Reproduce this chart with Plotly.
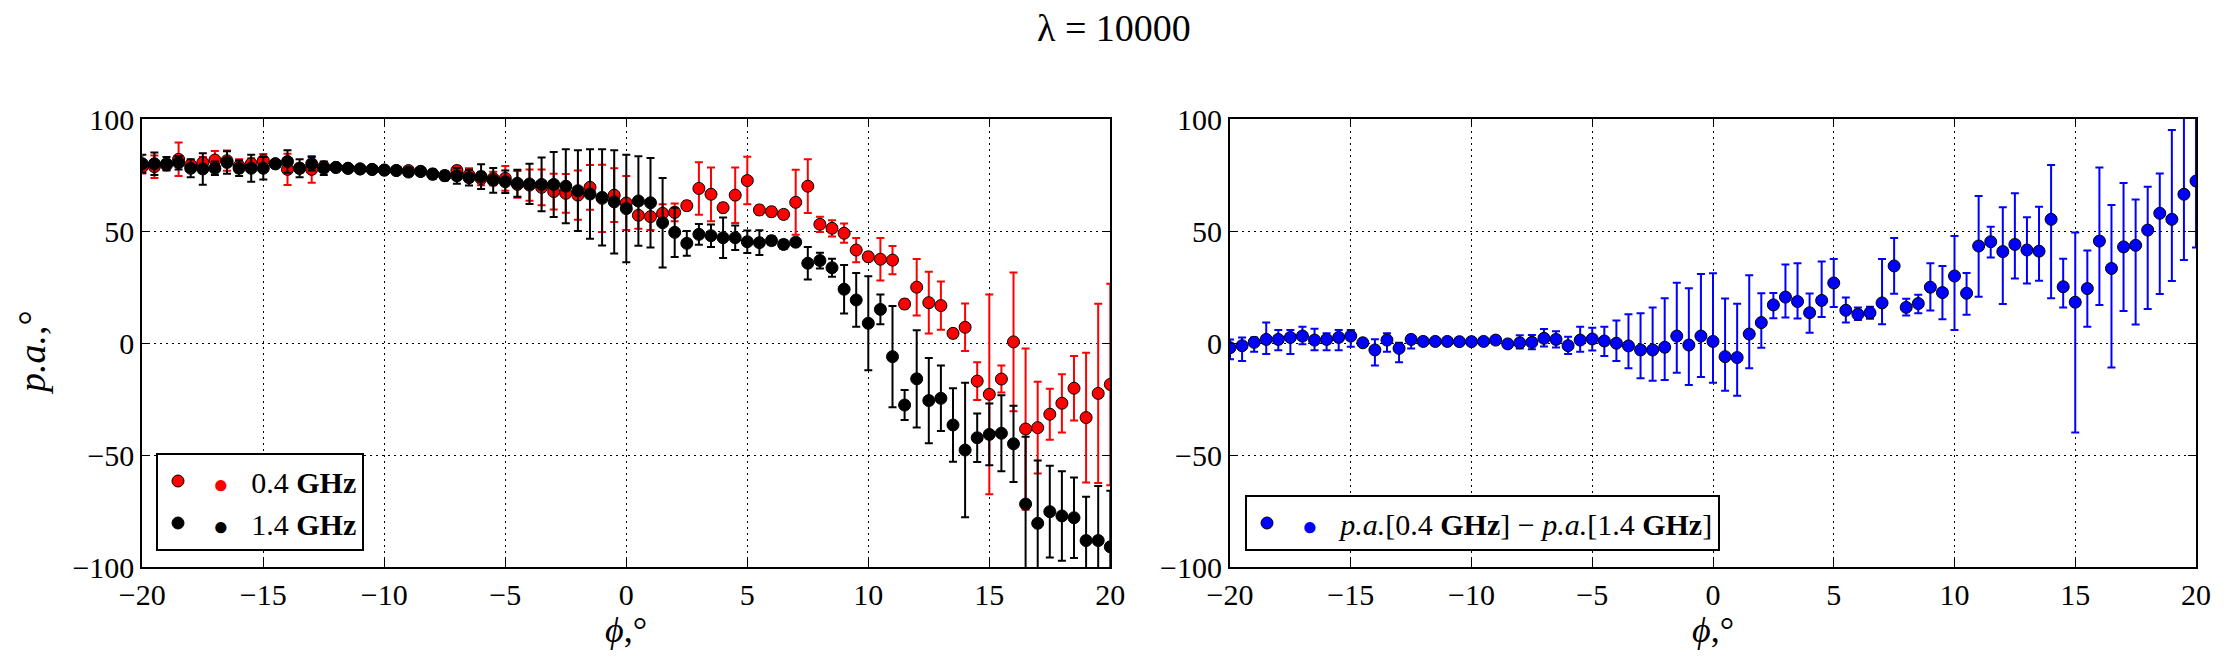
import numpy as np
import plotly.graph_objects as go

# ---------------- data ----------------
phi = [-20, -19.5, -19, -18.5, -18, -17.5, -17, -16.5, -16, -15.5, -15, -14.5, -14, -13.5, -13, -12.5,
       -12, -11.5, -11, -10.5, -10, -9.5, -9, -8.5, -8, -7.5, -7, -6.5, -6, -5.5, -5, -4.5, -4, -3.5,
       -3, -2.5, -2, -1.5, -1, -0.5, 0, 0.5, 1, 1.5, 2, 2.5, 3, 3.5, 4, 4.5, 5, 5.5, 6, 6.5, 7, 7.5,
       8, 8.5, 9, 9.5, 10, 10.5, 11, 11.5, 12, 12.5, 13, 13.5, 14, 14.5, 15, 15.5, 16, 16.5, 17, 17.5,
       18, 18.5, 19, 19.5, 20]

pa_04 = [78.7, 78.7, 79.5, 82, 79.5, 80.5, 81.7, 81.4, 79, 80, 81.4, 80, 77.5, 78, 77.5, 78.7,
         78.4, 78, 77.7, 77.5, 77.2, 77, 77, 76.6, 75.5, 74.7, 77, 75, 73.4, 73.4, 73.5, 70.8, 70.5, 69.5,
         67.6, 66.8, 66, 69.5, 64.6, 66, 62.5, 57, 56.4, 57.9, 58.3, 61.3, 69, 66.4, 60.4, 66, 72.5, 59.4, 58.6, 57.4, 62.8, 70,
         53, 51.2, 49, 41.5, 38.5, 37.4, 37, 17.4, 24.9, 18, 16.7, 4.3, 7, -17, -22.9, -16.1, 0.5, -38.4, -37.8, -31.8,
         -26.9, -20.2, -33.3, -22.5, -18.5]
err_04 = [3, 5, 2, 7.5, 2, 2.5, 4, 4.5, 3, 2.5, 3, 1, 7, 2, 6, 2,
          1, 1, 1, 1, 1, 1, 1, 1, 1.5, 2, 2, 3, 3, 3, 5.5, 6, 7, 8,
          8, 8.6, 11, 10, 15, 12, 12, 6, 6, 4, 4, 2, 11.7, 12, 2, 12.4, 10.6, 2, 2, 2, 14.5, 12,
          3.4, 3.6, 4.3, 5.4, 2, 9.5, 6.3, 2, 12.6, 13.8, 10.8, 2, 10.6, 8.4, 44.6, 6, 31, 36, 20.5, 11.4,
          13, 14.4, 29, 40, 45]

pa_14 = [80, 80, 80, 80.5, 78, 77.7, 78, 80.6, 78, 78, 78, 80, 81, 78, 80, 78,
         78.4, 78, 77.7, 77.5, 77.2, 77, 76.3, 76.6, 75.3, 74.7, 74.6, 73.8, 74.3, 72.6, 72, 71.3, 71, 70.8,
         70.8, 70, 68, 66.5, 65, 63, 60, 63.4, 62.6, 53.7, 49.4, 44.5, 48.5, 47.9, 47, 47, 45.2, 44.8, 45.7, 44, 45, 35.6,
         36.8, 33.6, 24, 19.2, 8.8, 15, -6.1, -27.7, -16, -25.7, -24.7, -36.6, -47.8, -42.3, -40.8, -40.3, -45, -71.9, -80.5, -75.3,
         -77.2, -78, -88.2, -88.2, -91]
err_14 = [4, 5, 3, 3, 4, 7, 3, 5, 3.5, 6, 5, 1, 5, 4, 3, 3,
          1, 1, 1, 1, 1, 1, 1, 1, 2, 2, 3.5, 3.5, 5.5, 5.5, 5, 6, 9, 12,
          14.5, 16.5, 18, 20, 21.5, 23, 24, 20, 20, 20, 11, 5.5, 4.6, 5, 9, 5.5, 5, 5.5, 2, 2, 1.5, 7.3,
          3.5, 4, 10.8, 12, 21, 6.6, 22.6, 6.7, 21.7, 19, 14.6, 16.4, 30, 10.8, 13.8, 17, 17, 30, 28, 20.5,
          20, 18, 19.6, 24.4, 25]

pa_diff = [-2.1, -1.2, 0.3, 1.6, 1.6, 2.5, 3.1, 1.3, 1.6, 2.5, 3.1, 0.1, -3.1, 1.3, -2.4, 1.6,
           0.7, 0.7, 0.7, 0.6, 0.6, 0.7, 1.3, -0.4, 0.1, 0.3, 2.1, 1.6, -1.2, 1.3, 1.8, 0.9, -0.1, -1.3,
           -3.1, -3.1, -1.9, 3.1, -0.9, 3.1, 0.7, -6.1, -6.5, 4.0, 9.1, 17, 20.5, 18.5, 13.5, 19, 26.8, 14.6, 12.8, 13.5, 17.9, 34.4,
           15.9, 17.6, 24.9, 22.5, 29.9, 22.2, 43.3, 45.2, 40.8, 44, 41.5, 41, 55.2, 25.1, 18.2, 24.3, 45.5, 33.3, 42.9, 43.6,
           50.4, 57.9, 55.2, 66.4, 72.3]
err_diff_up = [3.7, 3.6, 2.1, 7.6, 4.2, 3.3, 4.2, 5.1, 2.7, 3.3, 2.7, 1, 4.8, 3, 2.5, 1.9,
               1, 1, 1, 1, 1, 1, 1, 1, 3.4, 3.3, 4.2, 3.7, 4, 6, 5, 6.4, 10.1, 14.1,
               16.4, 19, 21.9, 23.8, 25.3, 27.7, 30.4, 26, 24, 26.3, 13.1, 5.3, 14.6, 17.1, 8.6, 17.4, 10.7, 5.7, 3.1, 2.7, 19.6, 12.5,
               3.9, 3.9, 10.7, 11.9, 17.9, 9, 22.3, 6.7, 19.8, 22.8, 14.6, 19.8, 24.3, 12.5, 31.1, 17, 32.9, 28.3, 28.5, 20.5,
               19.4, 17.8, 39.9, 35, 30]
err_diff_down = [5.2, 6.8, 4.2, 6.5, 4.8, 7.4, 3.7, 4.5, 4.8, 5.7, 4.8, 1, 7.0, 5.2, 6.2, 4,
                 1, 1, 1, 1, 1, 1, 1, 1, 2.5, 3.1, 3.7, 3.6, 3.7, 5.2, 5.2, 6.7, 7.9, 10,
                 12.6, 13.8, 14.6, 16.4, 17.9, 18.3, 18.5, 15.2, 17, 15.3, 11.2, 6, 9.1, 7.6, 8.9, 7.4, 10.7, 5.4, 2.5, 2.7, 9.5, 12.4,
                 3.6, 4.3, 10.4, 11.9, 24.1, 9.6, 22.6, 7, 23.4, 15.2, 14.9, 13.2, 35.2, 9.2, 58.1, 17, 28.5, 44.2, 28.6, 35.3,
                 35.2, 36, 27.5, 29.4, 29.7]

x_ticks = [-20, -15, -10, -5, 0, 5, 10, 15, 20]
y_ticks = [-100, -50, 0, 50, 100]

# ---------------- figure ----------------
FONT = "Liberation Serif, DejaVu Serif, serif"
W, H = 2228, 669

fig = go.Figure()

def dot(color):
    # second legend point (the reference legend shows two points per entry)
    return f'\u00a0\u00a0<span style="color:{color};font-size:26px">●</span>\u00a0\u00a0\u00a0'

def add_series(x, y, err_plus, err_minus, color, name, xa, ya, legend):
    fig.add_trace(go.Scatter(
        x=x, y=y, mode="markers", name=name, xaxis=xa, yaxis=ya, legend=legend,
        marker=dict(size=12, color=color, line=dict(color="black", width=1)),
        error_y=dict(type="data", array=err_plus, arrayminus=err_minus, symmetric=False,
                     color=color, thickness=2, width=4),
    ))

add_series(phi, pa_04, err_04, err_04, "#ff0000", dot("#ff0000") + "0.4 <b>GHz</b>", "x", "y", "legend")
add_series(phi, pa_14, err_14, err_14, "#000000", dot("#000000") + "1.4 <b>GHz</b>", "x", "y", "legend")
add_series(phi, pa_diff, err_diff_up, err_diff_down, "#0000ff",
           dot("#0000ff") + "<i>p.a.</i>[0.4 <b>GHz</b>] − <i>p.a.</i>[1.4 <b>GHz</b>]", "x2", "y2", "legend2")

ydom = [(H - 567) / H, (H - 119) / H]
axis_common = dict(
    showline=True, linecolor="black", linewidth=2, mirror="ticks",
    ticks="inside", ticklen=8, tickwidth=1, tickcolor="black",
    showgrid=True, gridcolor="black", gridwidth=1, griddash="2px,4px",
    zeroline=False, automargin=False,
    tickfont=dict(family=FONT, size=30, color="black"),
)

legend_common = dict(xanchor="left", yanchor="bottom", y=(H - 551) / H,
                     bgcolor="white", bordercolor="black", borderwidth=2,
                     font=dict(family=FONT, size=30, color="black"),
                     itemwidth=30, tracegroupgap=4)

fig.update_layout(
    width=W, height=H,
    margin=dict(l=0, r=0, t=0, b=0, pad=0),
    paper_bgcolor="white", plot_bgcolor="white",
    font=dict(family=FONT, color="black"),
    xaxis=dict(domain=[142.3 / W, 1110.3 / W], range=[-20, 20], tickvals=x_ticks, anchor="y", **axis_common),
    yaxis=dict(domain=ydom, range=[-100, 100], tickvals=y_ticks, anchor="x", **axis_common),
    xaxis2=dict(domain=[1230 / W, 2196 / W], range=[-20, 20], tickvals=x_ticks, anchor="y2", **axis_common),
    yaxis2=dict(domain=ydom, range=[-100, 100], tickvals=y_ticks, anchor="x2", **axis_common),
    legend=dict(x=156 / W, **legend_common),
    legend2=dict(x=1245 / W, **legend_common),
    annotations=[
        dict(text="λ = 10000", x=1114 / W, y=(H - 28) / H, xref="paper", yref="paper",
             showarrow=False, font=dict(family=FONT, size=38, color="black"),
             xanchor="center", yanchor="middle"),
        dict(text="<i>ϕ</i>,°", x=626 / W, y=(H - 630) / H, xref="paper", yref="paper",
             showarrow=False, font=dict(family=FONT, size=36, color="black"),
             xanchor="center", yanchor="middle"),
        dict(text="<i>ϕ</i>,°", x=1713 / W, y=(H - 630) / H, xref="paper", yref="paper",
             showarrow=False, font=dict(family=FONT, size=36, color="black"),
             xanchor="center", yanchor="middle"),
        dict(text="<i>p.a.</i>,°", x=32 / W, y=(H - 353) / H, xref="paper", yref="paper",
             showarrow=False, textangle=-90, font=dict(family=FONT, size=38, color="black"),
             xanchor="center", yanchor="middle"),
    ],
)

fig.write_html("out.html")
